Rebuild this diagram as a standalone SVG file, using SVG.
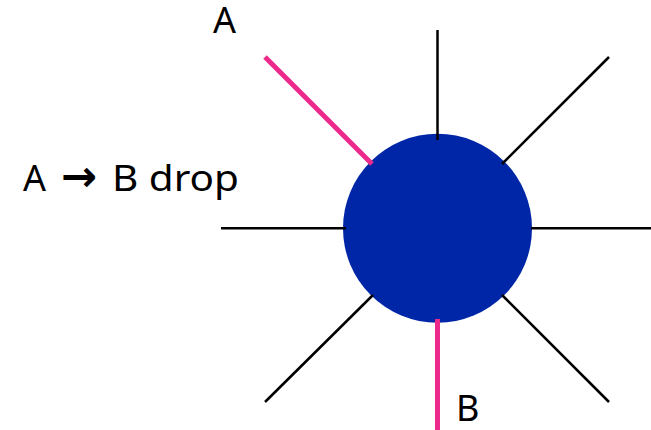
<svg xmlns="http://www.w3.org/2000/svg" width="651" height="430" viewBox="0 0 651 430">
<style>
.k{stroke:#000;stroke-width:2.5;fill:none}
.p{stroke:#ec2a8c;stroke-width:5;fill:none}
text{font-family:"Noto Sans","Open Sans",sans-serif;font-size:36px;fill:#000}
.ar{font-family:"DejaVu Sans",sans-serif;font-size:43px;font-weight:bold}
</style>
<rect width="651" height="430" fill="#fff"/>
<g id="node-center"><circle cx="437.5" cy="228.3" r="94.5" fill="#0026a8"/></g>
<g id="connectors">
<line class="k" x1="437.5" y1="30" x2="437.5" y2="140"/>
<line class="k" x1="531" y1="228.3" x2="651" y2="228.3"/>
<line class="k" x1="221" y1="228.3" x2="346" y2="228.3"/>
<line class="k" x1="609" y1="57" x2="502" y2="164"/>
<line class="k" x1="502" y1="295" x2="609" y2="402"/>
<line class="k" x1="373" y1="295" x2="265" y2="402"/>
<line class="p" x1="265" y1="57" x2="372" y2="164"/>
<line class="p" x1="437.5" y1="319" x2="437.5" y2="430"/>
</g>
<g id="labels">
<text x="213" y="33">A</text>
<text x="23" y="190.5">A<tspan class="ar" x="61">→</tspan><tspan x="112" textLength="127" lengthAdjust="spacingAndGlyphs">B drop</tspan></text>
<text x="456" y="421">B</text>
</g>
</svg>
